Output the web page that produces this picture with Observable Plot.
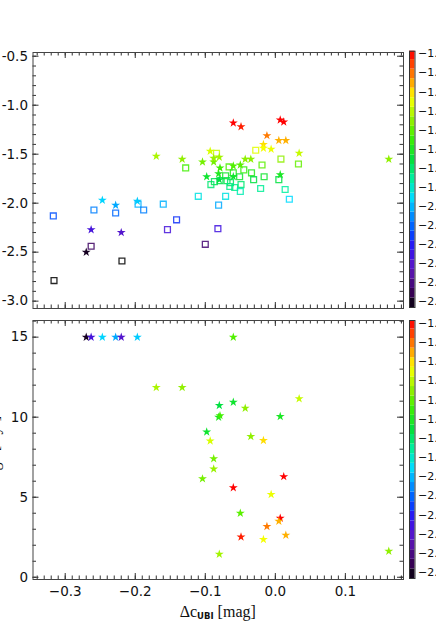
<!DOCTYPE html>
<html><head><meta charset="utf-8">
<script src="https://cdn.jsdelivr.net/npm/d3@7"></script>
<script src="https://cdn.jsdelivr.net/npm/@observablehq/plot@0.6"></script>
<style>
html,body{margin:0;padding:0;background:#fff;}
#wrap{position:relative;width:436px;height:630px;overflow:hidden;background:#fff;}
#wrap > *{position:absolute;}
.xt{font-family:"Liberation Serif",serif;font-size:16px;line-height:16px;color:#111;white-space:nowrap;}
.xt sub{font-family:"DejaVu Sans",sans-serif;font-size:8.5px;font-weight:bold;vertical-align:-2px;}
</style></head><body><div id="wrap"></div>
<script>
// ---- data ----
const starDx  = [-0.270,-0.263,-0.247,-0.228,-0.220,-0.197,-0.170,-0.133,-0.104,-0.098,-0.093,-0.088,-0.088,-0.081,-0.079,-0.080,-0.080,-0.060, 0.034,-0.060,-0.043, 0.007,-0.035,-0.017,-0.060, 0.012,-0.006,-0.050, 0.007, 0.005,-0.012,-0.049,-0.017, 0.015, 0.162];
const starFeH = [-2.50,-2.27,-1.97,-2.02,-2.30,-1.98,-1.52,-1.55,-1.58,-1.73,-1.47,-1.58,-1.54,-1.70,-1.64,-1.76,-1.53,-1.62,-1.49,-1.73,-1.55,-1.71,-1.55,-1.40,-1.18,-1.17,-1.45,-1.61,-1.15,-1.36,-1.31,-1.22,-1.44,-1.36,-1.55];
const starAge = [15.0, 15.0, 15.0, 15.0, 15.0, 15.0, 11.85,11.85,6.15, 9.08, 8.52, 7.40, 6.77,10.00,10.10,10.73, 1.44,15.0, 11.15,10.94,10.56,10.04, 8.79, 8.54, 5.59, 6.29, 5.17, 4.00, 3.69, 3.50, 3.17, 2.52, 2.36, 2.63, 1.63];
const sqDx  = [-0.317,-0.316,-0.263,-0.259,-0.228,-0.219,-0.196,-0.188,-0.160,-0.154,-0.141,-0.128,-0.110,-0.100,-0.084,-0.092,-0.087,-0.079,-0.081,-0.082,-0.028, 0.008, 0.033,-0.019,-0.066,-0.060,-0.045,-0.034,-0.016,-0.031,-0.051,-0.071,-0.069,-0.064,-0.065,-0.058,-0.049,-0.050, 0.005,-0.021, 0.014, 0.020,-0.071];
const sqFeH = [-2.13,-2.79,-2.44,-2.07,-2.10,-2.59,-2.01,-2.07,-2.01,-2.27,-2.17,-1.64,-1.93,-2.42,-1.49,-1.81,-1.78,-1.77,-2.02,-2.26,-1.46,-1.55,-1.60,-1.61,-1.63,-1.69,-1.66,-1.69,-1.73,-1.76,-1.73,-1.72,-1.77,-1.79,-1.83,-1.84,-1.81,-1.88,-1.76,-1.85,-1.86,-1.96,-1.93];
const xTicks = [-0.3,-0.2,-0.1,0.0,0.1];
const topYTicks = [-3.0,-2.5,-2.0,-1.5,-1.0,-0.5];
const botYTicks = [0,5,10,15];
const cbTicks = [-2.5,-2.4,-2.3,-2.2,-2.1,-2.0,-1.9,-1.8,-1.7,-1.6,-1.5,-1.4,-1.3,-1.2];
const xLabel = ["Δc","UBI"," [mag]"];
const ageLabel = "Age [Gyr]";

// ---- colour map (rainbow + black) ----
const stopVals = [-2.53,-2.45,-2.33,-2.22,-2.14,-2.05,-1.96,-1.86,-1.76,-1.64,-1.55,-1.47,-1.43,-1.36,-1.28,-1.19];
const stopCols = ["#000000","#3a0058","#6018c0","#3010f0","#0048ff","#0090ff","#00dcff","#00f0a0","#00e040","#40f000","#90f000","#d8ff00","#ffff00","#ffb000","#ff5a00","#ff0000"];
const colorOpts = {type:"linear", domain: stopVals, range: stopCols, clamp:true};

const stars = starDx.map((x,i)=>({dx:x, feh:starFeH[i], age:starAge[i]}));
const squares = sqDx.map((x,i)=>({dx:x, feh:sqFeH[i]}));

const xDom = [-0.346, 0.183];
const xMinor = d3.range(-34, 19).map(i => i/100);
const font = {fontFamily:"DejaVu Sans, sans-serif", fontSize:"13.5px", color:"#222", background:"transparent", overflow:"visible"};
const tickCol = "#333";

function boxTicks(xt, xm, yt, ym, fw, fh) {
  const L = 6, l = 3.5;
  return [
    Plot.tickX(xm, {x:d=>d, insetTop:fh-l, stroke:tickCol}),
    Plot.tickX(xm, {x:d=>d, insetBottom:fh-l, stroke:tickCol}),
    Plot.tickX(xt, {x:d=>d, insetTop:fh-L, stroke:tickCol}),
    Plot.tickX(xt, {x:d=>d, insetBottom:fh-L, stroke:tickCol}),
    Plot.tickY(ym, {y:d=>d, insetRight:fw-l, stroke:tickCol}),
    Plot.tickY(ym, {y:d=>d, insetLeft:fw-l, stroke:tickCol}),
    Plot.tickY(yt, {y:d=>d, insetRight:fw-L, stroke:tickCol}),
    Plot.tickY(yt, {y:d=>d, insetLeft:fw-L, stroke:tickCol}),
    Plot.frame({stroke:"#444"})
  ];
}

const wrap = document.getElementById("wrap");

// ---- top panel ----
const W = 410, mL = 32.5, mR = 7;
const fw = W - mL - mR;
const topH = 320, topMT = 52, topMB = 12;
const topPlot = Plot.plot({
  width: W, height: topH, marginTop: topMT, marginBottom: topMB, marginLeft: mL, marginRight: mR,
  x: {domain: xDom, axis: null},
  y: {domain: [-3.075, -0.462], axis: null},
  color: colorOpts,
  style: font,
  marks: [
    Plot.dot(squares, {x:"dx", y:"feh", symbol:"square", stroke:"feh", fill:"none", r:3.3, strokeWidth:1.3, strokeOpacity:0.85}),
    Plot.dot(stars, {x:"dx", y:"feh", symbol:"star", fill:"feh", r:2.8}),
    ...boxTicks(xTicks, xMinor, topYTicks, d3.range(-30, -4).map(i=>i/10), fw, topH-topMT-topMB),
    Plot.axisY(topYTicks, {anchor:"left", label:null, tickSize:0, tickPadding:5, tickFormat: d => d.toFixed(1), fill:"#111"})
  ]
});
topPlot.style.left = "0px"; topPlot.style.top = "0px";
wrap.appendChild(topPlot);

// ---- bottom panel ----
const botTop = 308, botH = 322, botMT = 12, botMB = 51;
const botPlot = Plot.plot({
  width: W, height: botH, marginTop: botMT, marginBottom: botMB, marginLeft: mL, marginRight: mR,
  x: {domain: xDom, axis: null},
  y: {domain: [-0.14, 16.04], axis: null},
  color: colorOpts,
  style: font,
  marks: [
    Plot.dot(stars, {x:"dx", y:"age", symbol:"star", fill:"feh", r:2.8}),
    ...boxTicks(xTicks, xMinor, botYTicks, d3.range(0, 17), fw, botH-botMT-botMB),
    Plot.axisY(botYTicks, {anchor:"left", label:null, tickSize:0, tickPadding:5, tickFormat: d => String(d), fill:"#111"}),
    Plot.axisX(xTicks, {anchor:"bottom", label:null, tickSize:0, tickPadding:7, tickFormat: d3.format(".1f"), fill:"#111"})
  ]
});
botPlot.style.left = "0px"; botPlot.style.top = botTop + "px";
wrap.appendChild(botPlot);

// ---- colour bars ----
const bandEdges = d3.range(0, 28).map(i => -2.53 + i*0.05);
const bands = bandEdges.slice(0,-1).map((lo,i)=>({lo, hi: Math.min(bandEdges[i+1], -1.186), mid: lo+0.025}));
function colorbar(top, h, mt, mb) {
  const cb = Plot.plot({
    width: 100, height: h, marginTop: mt, marginBottom: mb, marginLeft: 4, marginRight: 90.5,
    x: {domain:[0,1], axis:null},
    y: {domain:[-2.53,-1.186], axis:null},
    color: colorOpts,
    style: {...font, fontSize:"11px"},
    marks: [
      Plot.rect(bands, {x1:0, x2:1, y1:"lo", y2:"hi", fill:"mid"}),
      Plot.frame({stroke:"#333"}),
      Plot.axisY(cbTicks, {anchor:"right", label:null, tickSize:0, tickPadding:3, tickFormat: d3.format(".1f"), fill:"#111"})
    ]
  });
  cb.style.left = "405px"; cb.style.top = top + "px";
  wrap.appendChild(cb);
}
colorbar(0, 320, 50.7, 13);
colorbar(308, 322, 12, 52);

// ---- x title ----
const xt = document.createElement("div");
xt.className = "xt";
xt.innerHTML = `${xLabel[0]}<sub>${xLabel[1]}</sub>${xLabel[2]}`;
wrap.appendChild(xt);
const xtw = xt.getBoundingClientRect().width;
xt.style.left = (mL + fw/2 - xtw/2) + "px";
xt.style.top = "604px";

// ---- cut-off y title of bottom panel (only its descenders show at the edge) ----
const yt = document.createElement("div");
yt.className = "xt";
yt.textContent = ageLabel;
wrap.appendChild(yt);
const ytw = yt.getBoundingClientRect().width;
yt.style.transformOrigin = "0 0";
yt.style.transform = "rotate(-90deg)";
yt.style.left = "-14px";
yt.style.top = (449 + ytw/2) + "px";
</script></body></html>
